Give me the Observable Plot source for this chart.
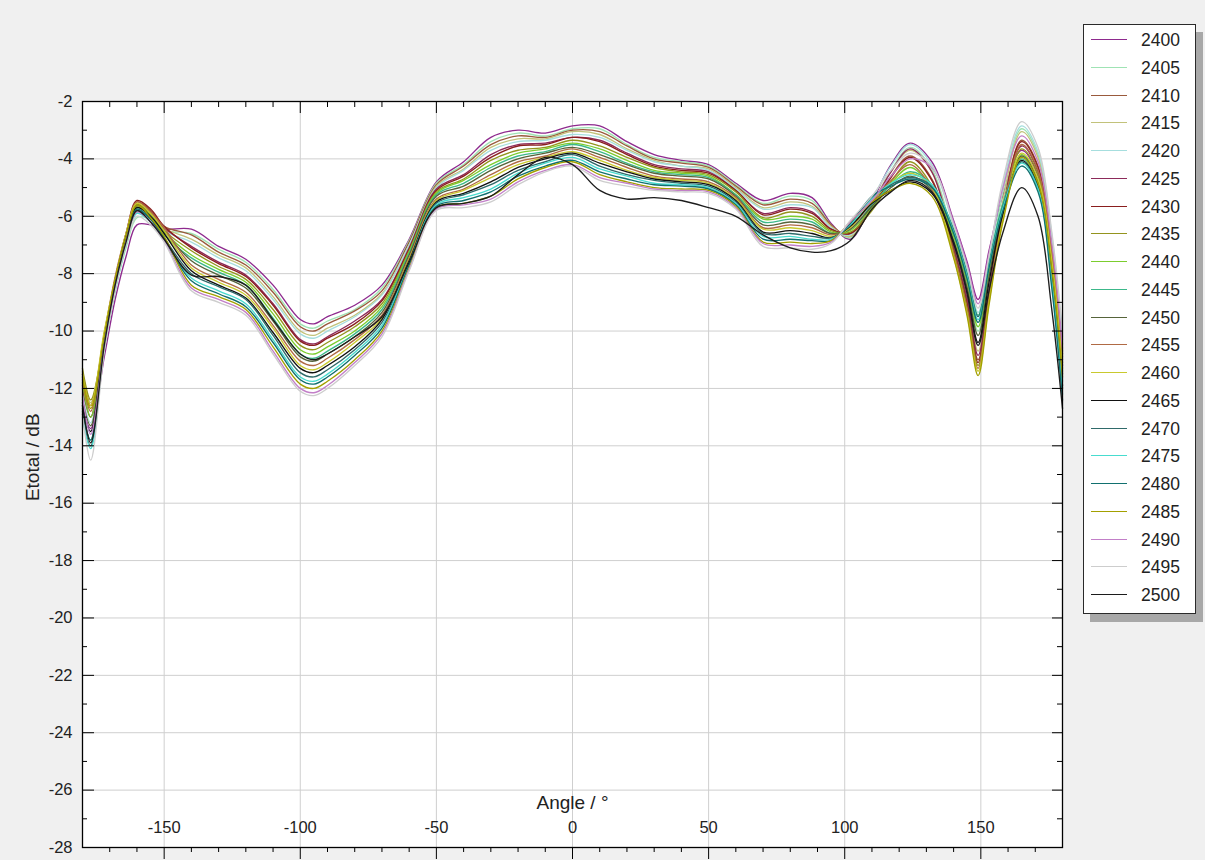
<!DOCTYPE html>
<html>
<head>
<meta charset="utf-8">
<script src="https://cdn.jsdelivr.net/npm/d3@7"></script>
<script src="https://cdn.jsdelivr.net/npm/@observablehq/plot@0.6"></script>
<style>
  html, body { margin: 0; padding: 0; background: #f0f0f0; }
  body { font-family: "Liberation Sans", Arial, sans-serif; }
  #wrap { position: relative; width: 1205px; height: 860px; overflow: hidden; background: #f0f0f0; }
  #chart { position: absolute; left: 0; top: 0; }
  #legend { position: absolute; left: 1083px; top: 24px; width: 111px; height: 588px; background: #fff;
            border: 1px solid #2a2a2a; box-shadow: 7px 8px 0 #a8a8a8; }
  .row { position: absolute; left: 0; width: 100%; height: 28px; }
  .sw { position: absolute; left: 7px; top: 13px; width: 36px; height: 0; border-top: 1.5px solid #000; }
  .lab { position: absolute; left: 57px; top: 0; line-height: 28px; font-size: 17.5px; color: #222; }
</style>
</head>
<body>
<div id="wrap">
  <div id="chart"></div>
  <div id="legend"></div>
</div>
<script>
// Angle sample points (degrees)
const angles = [-180,-177,-172,-168,-164,-160,-155,-150,-140,-130,-120,-110,-100,-95,-90,-80,-70,-60,-50,-40,-30,-20,-10,0,10,20,30,40,50,60,70,80,88,95,102,110,117,124,132,140,145,149,153,158,165,171,176,180];

// Etotal (dB) per frequency (MHz)
const e2400 = [-12.6,-13.4,-10.9,-8.9,-7.4,-6.3,-6.3,-6.45,-6.45,-7.05,-7.5,-8.4,-9.6,-9.75,-9.5,-9.1,-8.4,-6.8,-4.8,-4.1,-3.25,-3.0,-3.1,-2.85,-2.85,-3.4,-3.85,-4.05,-4.2,-4.85,-5.45,-5.2,-5.35,-6.25,-6.8,-5.5,-4.2,-3.45,-4.1,-6.15,-7.6,-8.9,-7.2,-5.3,-3.7,-4.6,-7.4,-11.2];
const e2405 = [-11.6,-13.0,-10.6,-8.6,-7.1,-6.05,-6.1,-6.5,-6.6,-7.15,-7.6,-8.55,-9.75,-9.9,-9.65,-9.25,-8.5,-6.85,-4.85,-4.2,-3.4,-3.1,-3.2,-2.95,-2.95,-3.5,-3.95,-4.1,-4.25,-4.9,-5.55,-5.3,-5.45,-6.3,-6.75,-5.6,-4.4,-3.6,-4.35,-6.75,-8.4,-10.0,-8.0,-5.2,-2.95,-3.85,-6.7,-10.3];
const e2410 = [-11.9,-12.6,-10.3,-8.3,-6.7,-5.5,-5.8,-6.35,-6.65,-7.25,-7.7,-8.65,-9.85,-10.0,-9.75,-9.3,-8.6,-6.9,-4.9,-4.25,-3.5,-3.2,-3.25,-3.0,-3.05,-3.55,-4.0,-4.15,-4.3,-4.95,-5.6,-5.4,-5.55,-6.3,-6.7,-5.7,-4.6,-3.9,-4.7,-7.15,-9.0,-11.0,-8.7,-5.75,-3.35,-4.25,-7.0,-10.7];
const e2415 = [-11.4,-12.5,-10.4,-8.4,-6.8,-5.7,-5.85,-6.4,-6.8,-7.35,-7.8,-8.8,-10.0,-10.15,-9.9,-9.45,-8.7,-7.0,-4.95,-4.35,-3.6,-3.3,-3.3,-3.05,-3.15,-3.65,-4.05,-4.25,-4.35,-5.0,-5.7,-5.5,-5.65,-6.35,-6.7,-5.55,-4.45,-3.7,-4.45,-7.0,-8.8,-10.7,-8.5,-5.5,-3.05,-3.95,-6.8,-10.45];
const e2420 = [-12.2,-13.2,-10.5,-8.4,-6.9,-5.8,-5.95,-6.5,-6.9,-7.45,-7.9,-8.9,-10.1,-10.25,-10.0,-9.5,-8.75,-7.0,-5.0,-4.4,-3.7,-3.4,-3.35,-3.15,-3.25,-3.7,-4.1,-4.25,-4.4,-5.05,-5.75,-5.6,-5.7,-6.4,-6.65,-5.4,-4.25,-3.5,-4.2,-6.35,-7.9,-9.35,-7.5,-4.95,-2.85,-3.75,-6.6,-10.2];
const e2425 = [-12.0,-13.0,-10.2,-8.2,-6.7,-5.6,-5.85,-6.4,-7.05,-7.6,-8.05,-9.05,-10.3,-10.45,-10.2,-9.65,-8.9,-7.1,-5.05,-4.55,-3.85,-3.5,-3.45,-3.25,-3.35,-3.8,-4.2,-4.35,-4.45,-5.1,-5.9,-5.7,-5.85,-6.45,-6.6,-5.6,-4.45,-3.65,-4.45,-7.05,-8.9,-10.85,-8.6,-5.8,-3.55,-4.45,-7.25,-11.0];
const e2430 = [-11.5,-12.6,-10.1,-8.2,-6.6,-5.45,-5.75,-6.35,-7.1,-7.65,-8.1,-9.1,-10.35,-10.5,-10.25,-9.75,-8.95,-7.15,-5.1,-4.6,-3.95,-3.55,-3.5,-3.25,-3.4,-3.85,-4.25,-4.4,-4.5,-5.1,-5.95,-5.75,-5.9,-6.45,-6.6,-5.75,-4.65,-3.95,-4.75,-7.2,-9.1,-11.1,-8.8,-5.85,-3.4,-4.3,-7.1,-10.8];
const e2435 = [-11.3,-12.4,-10.3,-8.3,-6.7,-5.65,-5.9,-6.5,-7.2,-7.75,-8.2,-9.25,-10.5,-10.65,-10.4,-9.85,-9.05,-7.2,-5.15,-4.7,-4.05,-3.7,-3.6,-3.35,-3.55,-3.95,-4.3,-4.45,-4.55,-5.15,-6.05,-5.85,-6.0,-6.5,-6.55,-5.8,-4.8,-4.1,-4.95,-7.25,-9.2,-11.2,-8.85,-6.0,-3.65,-4.55,-7.35,-11.1];
const e2440 = [-11.8,-13.0,-10.4,-8.4,-6.8,-5.7,-5.95,-6.55,-7.35,-7.85,-8.3,-9.4,-10.65,-10.8,-10.55,-10.0,-9.15,-7.25,-5.2,-4.75,-4.2,-3.8,-3.65,-3.45,-3.65,-4.05,-4.4,-4.5,-4.6,-5.25,-6.1,-6.0,-6.1,-6.55,-6.5,-5.7,-4.85,-4.3,-5.0,-6.7,-8.3,-9.85,-7.9,-5.65,-3.85,-4.75,-7.6,-11.4];
const e2445 = [-12.8,-13.8,-10.6,-8.5,-6.9,-5.85,-6.05,-6.65,-7.45,-7.95,-8.4,-9.55,-10.8,-10.95,-10.7,-10.1,-9.25,-7.3,-5.25,-4.85,-4.3,-3.9,-3.75,-3.5,-3.75,-4.15,-4.45,-4.55,-4.65,-5.25,-6.2,-6.1,-6.2,-6.6,-6.45,-5.6,-4.9,-4.45,-4.9,-6.45,-8.0,-9.45,-7.6,-5.6,-4.0,-4.9,-7.9,-11.75];
const e2450 = [-12.4,-13.3,-10.2,-8.2,-6.7,-5.6,-5.9,-6.5,-7.55,-8.05,-8.5,-9.65,-10.9,-11.05,-10.8,-10.2,-9.35,-7.35,-5.3,-4.95,-4.4,-4.0,-3.8,-3.6,-3.85,-4.2,-4.5,-4.6,-4.7,-5.3,-6.3,-6.2,-6.3,-6.6,-6.45,-5.65,-5.0,-4.6,-5.1,-6.85,-8.5,-10.15,-8.1,-5.8,-3.9,-4.8,-7.7,-11.5];
const e2455 = [-11.7,-12.8,-10.1,-8.1,-6.6,-5.5,-5.85,-6.4,-7.7,-8.2,-8.65,-9.8,-11.05,-11.2,-10.95,-10.3,-9.45,-7.45,-5.4,-5.05,-4.55,-4.1,-3.9,-3.65,-3.95,-4.3,-4.6,-4.7,-4.8,-5.35,-6.4,-6.3,-6.4,-6.65,-6.4,-5.5,-4.75,-4.2,-5.05,-7.3,-9.3,-11.3,-8.9,-5.95,-3.5,-4.4,-7.2,-10.9];
const e2460 = [-11.5,-12.6,-10.0,-8.2,-6.6,-5.55,-5.9,-6.5,-7.8,-8.3,-8.75,-9.9,-11.2,-11.35,-11.1,-10.4,-9.55,-7.5,-5.45,-5.1,-4.65,-4.2,-3.95,-3.75,-4.05,-4.4,-4.65,-4.75,-4.85,-5.4,-6.45,-6.4,-6.5,-6.7,-6.4,-5.45,-4.85,-4.5,-5.0,-7.4,-9.4,-11.4,-9.0,-6.15,-3.8,-4.7,-7.5,-11.3];
const e2465 = [-12.5,-13.5,-10.3,-8.3,-6.7,-5.7,-6.0,-6.6,-7.9,-8.4,-8.85,-10.05,-11.3,-11.45,-11.2,-10.55,-9.6,-7.55,-5.5,-5.2,-4.8,-4.3,-4.0,-3.8,-4.15,-4.45,-4.7,-4.8,-4.9,-5.45,-6.55,-6.5,-6.6,-6.75,-6.35,-5.55,-5.1,-4.8,-5.2,-6.95,-8.65,-10.4,-8.3,-5.95,-4.05,-4.95,-8.0,-11.9];
const e2470 = [-12.9,-14.0,-10.5,-8.4,-6.9,-5.8,-6.1,-6.75,-8.0,-8.45,-8.9,-10.15,-11.45,-11.6,-11.35,-10.65,-9.7,-7.6,-5.55,-5.25,-4.9,-4.4,-4.1,-3.85,-4.25,-4.55,-4.75,-4.85,-4.95,-5.5,-6.6,-6.6,-6.7,-6.75,-6.3,-5.35,-4.9,-4.65,-4.95,-6.5,-8.05,-9.5,-7.7,-5.7,-4.1,-5.0,-8.1,-12.0];
const e2475 = [-13.0,-14.1,-10.6,-8.6,-7.0,-5.9,-6.2,-6.85,-8.15,-8.6,-9.05,-10.3,-11.6,-11.75,-11.5,-10.75,-9.8,-7.65,-5.6,-5.35,-5.05,-4.5,-4.15,-3.95,-4.35,-4.6,-4.85,-4.9,-5.0,-5.55,-6.7,-6.7,-6.8,-6.8,-6.3,-5.4,-4.85,-4.55,-4.9,-6.55,-8.1,-9.6,-7.75,-5.75,-4.15,-5.05,-8.25,-12.2];
const e2480 = [-12.7,-13.8,-10.4,-8.4,-6.9,-5.75,-6.1,-6.8,-8.25,-8.7,-9.15,-10.4,-11.7,-11.85,-11.6,-10.85,-9.9,-7.7,-5.65,-5.45,-5.15,-4.6,-4.25,-4.05,-4.45,-4.7,-4.9,-4.95,-5.05,-5.6,-6.8,-6.8,-6.85,-6.85,-6.25,-5.3,-4.95,-4.7,-5.0,-6.6,-8.2,-9.7,-7.8,-5.85,-4.25,-5.15,-8.45,-12.4];
const e2485 = [-11.6,-12.7,-10.2,-8.2,-6.7,-5.6,-6.05,-6.7,-8.4,-8.8,-9.25,-10.55,-11.85,-12.0,-11.75,-11.0,-10.0,-7.8,-5.7,-5.55,-5.3,-4.7,-4.3,-4.1,-4.55,-4.8,-5.0,-5.05,-5.1,-5.65,-6.9,-6.9,-6.95,-6.85,-6.2,-5.5,-5.1,-4.85,-5.3,-7.45,-9.5,-11.55,-9.1,-6.25,-3.95,-4.85,-7.8,-11.6];
const e2490 = [-12.3,-13.6,-10.5,-8.5,-6.9,-5.85,-6.2,-6.85,-8.5,-8.9,-9.35,-10.7,-12.0,-12.15,-11.9,-11.1,-10.1,-7.85,-5.75,-5.6,-5.4,-4.8,-4.4,-4.2,-4.65,-4.85,-5.05,-5.1,-5.15,-5.7,-6.95,-7.0,-7.05,-6.9,-6.2,-5.45,-4.6,-4.0,-4.3,-6.2,-7.7,-9.05,-7.3,-5.05,-3.2,-4.1,-6.9,-10.6];
const e2495 = [-12.9,-14.5,-10.7,-8.6,-7.0,-6.0,-6.3,-6.9,-8.6,-9.0,-9.45,-10.8,-12.1,-12.25,-12.0,-11.2,-10.2,-7.9,-5.8,-5.7,-5.5,-4.9,-4.45,-4.25,-4.75,-4.95,-5.1,-5.15,-5.2,-5.75,-7.05,-7.1,-7.15,-6.95,-6.15,-5.3,-4.4,-3.8,-4.25,-6.3,-7.8,-9.2,-7.4,-4.8,-2.7,-3.6,-6.5,-10.0];
const e2500 = [-12.6,-13.9,-10.5,-8.4,-6.9,-5.8,-6.2,-6.8,-8.05,-8.1,-8.4,-9.6,-10.8,-11.0,-10.8,-10.2,-9.5,-7.6,-5.7,-5.55,-5.3,-4.55,-3.95,-4.2,-5.1,-5.4,-5.35,-5.45,-5.7,-6.0,-6.65,-7.1,-7.25,-7.2,-6.85,-5.75,-5.15,-4.75,-5.15,-6.9,-8.7,-10.5,-8.6,-6.6,-5.0,-6.0,-9.2,-12.7];

const freqs = [2400,2405,2410,2415,2420,2425,2430,2435,2440,2445,2450,2455,2460,2465,2470,2475,2480,2485,2490,2495,2500];
const seriesValues = [e2400,e2405,e2410,e2415,e2420,e2425,e2430,e2435,e2440,e2445,e2450,e2455,e2460,e2465,e2470,e2475,e2480,e2485,e2490,e2495,e2500];
const colors = ["#8e2a8e","#9fe3b4","#9a5a3c","#c2c27a","#a6dede","#8c2a5a","#8a1e1e","#94941e","#7ccd2e","#3cb88a","#56643a","#b06a44","#c9c92e","#111111","#2f6a6a","#48dccf","#11706f","#a3a000","#c27fc8","#cdcdcd","#1c1c1c"];

const xMajor = [-150,-100,-50,0,50,100,150];
const xMinor = [-170,-160,-140,-130,-120,-110,-90,-80,-70,-60,-40,-30,-20,-10,10,20,30,40,60,70,80,90,110,120,130,140,160,170];
const yLabels = [-28,-26,-24,-22,-20,-18,-16,-14,-12,-10,-8,-6,-4,-2];
const yGrid = [-26,-24,-22,-20,-18,-16,-14,-12,-10,-8,-6,-4];
const yMinor = [-27,-25,-23,-21,-19,-17,-15,-13,-11,-9,-7,-5,-3];

const rows = [];
freqs.forEach((f, i) => angles.forEach((a, j) => rows.push({freq: String(f), angle: a, value: seriesValues[i][j]})));

const W = 1205, H = 860, ML = 82, MR = 143, MT = 101, MB = 13;
const FW = W - ML - MR, FH = H - MT - MB;

const chart = Plot.plot({
  width: W, height: H,
  marginLeft: ML, marginRight: MR, marginTop: MT, marginBottom: MB,
  x: {domain: [-180, 180], axis: null},
  y: {domain: [-28, -2], axis: null},
  color: {domain: freqs.map(String), range: colors},
  style: {background: "transparent", fontFamily: "'Liberation Sans', Arial, sans-serif", fontSize: "16.5px", color: "#222"},
  marks: [
    Plot.frame({fill: "#ffffff"}),
    Plot.gridX(xMajor, {stroke: "#cfcfcf", strokeOpacity: 1}),
    Plot.gridY(yGrid, {stroke: "#cfcfcf", strokeOpacity: 1}),
    Plot.line(rows, {x: "angle", y: "value", z: "freq", stroke: "freq", strokeWidth: 1.35, curve: "catmull-rom"}),
    Plot.ruleY(yLabels, {stroke: "#000", insetRight: FW - 12}),
    Plot.ruleY(yMinor, {stroke: "#000", insetRight: FW - 5}),
    Plot.ruleY(yLabels, {stroke: "#000", insetLeft: FW - 10}),
    Plot.ruleY(yMinor, {stroke: "#000", insetLeft: FW - 5}),
    Plot.ruleX(xMajor, {stroke: "#000", insetBottom: FH - 12}),
    Plot.ruleX(xMinor, {stroke: "#000", insetBottom: FH - 6}),
    Plot.ruleX(xMajor, {stroke: "#000", insetTop: FH, insetBottom: -12}),
    Plot.ruleX(xMinor, {stroke: "#000", insetTop: FH, insetBottom: -5}),
    Plot.frame({stroke: "#000", strokeWidth: 1.3}),
    Plot.text(yLabels, {y: d => d, frameAnchor: "left", textAnchor: "end", dx: -10, text: d => String(d), fill: "#222"}),
    Plot.text(xMajor, {x: d => d, frameAnchor: "bottom", dy: -15, text: d => String(d), fill: "#222"}),
    Plot.text(["Angle / °"], {x: () => 0, frameAnchor: "bottom", dy: -39, text: d => d, fontSize: 19, fill: "#222"}),
    Plot.text(["Etotal / dB"], {x: () => -198.4, y: () => -14.4, text: d => d, rotate: -90, fontSize: 19, fill: "#222"})
  ]
});
document.getElementById("chart").appendChild(chart);

const legend = document.getElementById("legend");
freqs.forEach((f, i) => {
  const r = document.createElement("div");
  r.className = "row";
  r.style.top = (1 + i * 27.75) + "px";
  const sw = document.createElement("span");
  sw.className = "sw";
  sw.style.borderTopColor = colors[i];
  const lab = document.createElement("span");
  lab.className = "lab";
  lab.textContent = String(f);
  r.appendChild(sw); r.appendChild(lab);
  legend.appendChild(r);
});
</script>
</body>
</html>
